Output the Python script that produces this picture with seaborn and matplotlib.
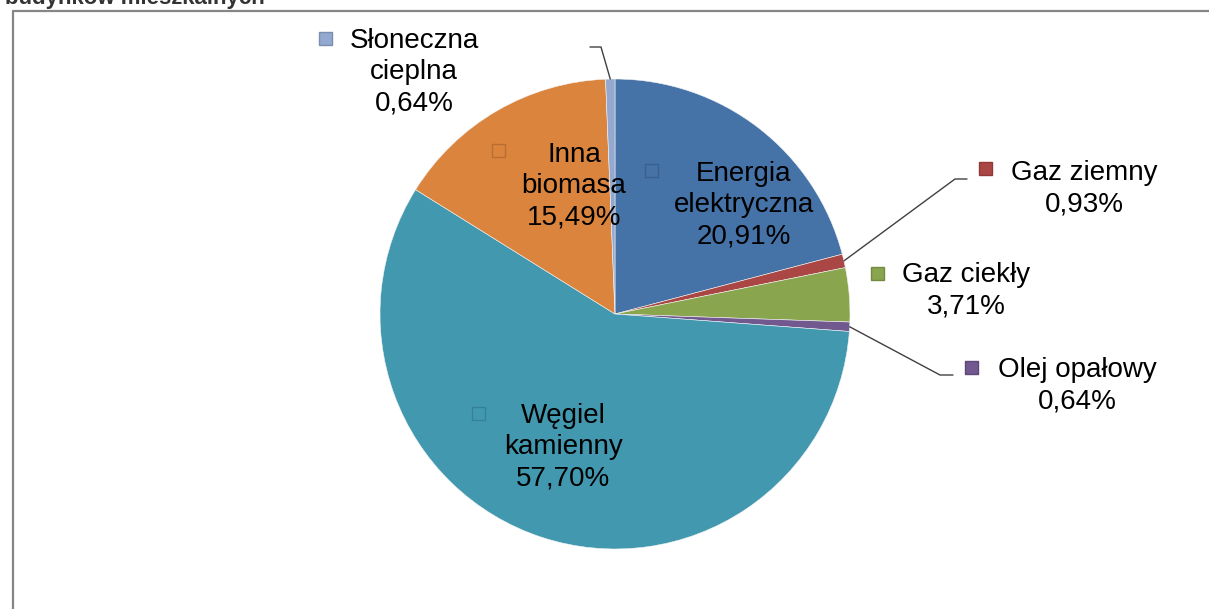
import numpy as np
import matplotlib.pyplot as plt
import seaborn as sns
from matplotlib.patches import Rectangle
from matplotlib.lines import Line2D

# Data
labels = ['Energia\nelektryczna', 'Gaz ziemny', 'Gaz ciekły', 'Olej opałowy',
          'Węgiel\nkamienny', 'Inna\nbiomasa', 'Słoneczna\ncieplna']
shares = [20.91, 0.93, 3.71, 0.64, 57.70, 15.49, 0.64]
pct_text = ['20,91%', '0,93%', '3,71%', '0,64%', '57,70%', '15,49%', '0,64%']
colors = ['#4572A7', '#AA4643', '#89A54E', '#71588F', '#4198AF', '#DB843D', '#93A9CF']
key_edges = ['#3A6090', '#8E3A38', '#728A41', '#5E4977', '#37809A', '#B86E33', '#7B8EAD']

sns.set_theme(style='white')
plt.rcParams['font.family'] = ['Liberation Sans', 'DejaVu Sans']

W, H = 1209, 609
fig = plt.figure(figsize=(W / 100, H / 100), dpi=100)
ax = fig.add_axes([0, 0, 1, 1])
ax.set_xlim(0, W)
ax.set_ylim(0, H)
ax.axis('off')


def Y(py):
    return H - py


cx, cy, R = 615, Y(314), 235
wedges, _ = ax.pie(shares, colors=sns.color_palette(colors), startangle=90,
                   counterclock=False, center=(cx, cy), radius=R,
                   wedgeprops=dict(edgecolor='#f4f4f4', linewidth=0.4))
ax.set_xlim(0, W)
ax.set_ylim(0, H)
ax.set_aspect('equal')

# label layout: text centre (image px), key square position
layout = {
    0: dict(tx=744, ty=205, kx=651, ky=170),
    1: dict(tx=1084, ty=189, kx=985, ky=168, elbow=(955, 179, 967)),
    2: dict(tx=966, ty=291, kx=877, ky=273),
    3: dict(tx=1077, ty=386, kx=971, ky=367, elbow=(940, 375, 953)),
    4: dict(tx=563, ty=447, kx=478, ky=413),
    5: dict(tx=574, ty=186, kx=498, ky=150),
    6: dict(tx=414, ty=72, kx=325, ky=38, elbow=(601, 47, 590)),
}

fs = 20
ks = 13
for i, w in enumerate(wedges):
    lay = layout[i]
    ax.text(lay['tx'], Y(lay['ty']), labels[i] + '\n' + pct_text[i],
            ha='center', va='center', fontsize=fs, color='black',
            linespacing=1.27, multialignment='center')
    ax.add_patch(Rectangle((lay['kx'] - ks / 2, Y(lay['ky']) - ks / 2), ks, ks,
                           facecolor=colors[i], edgecolor=key_edges[i], linewidth=1))
    if 'elbow' in lay:
        mid = np.deg2rad((w.theta1 + w.theta2) / 2)
        sx, sy = cx + R * np.cos(mid), cy + R * np.sin(mid)
        ex, ey, hx = lay['elbow']
        ax.add_line(Line2D([sx, ex, hx], [sy, Y(ey), Y(ey)], color='#404040', linewidth=1))

# frame of the chart area
fig.add_artist(Line2D([12.5 / W, 12.5 / W], [0, 1 - 11 / H], color='#868686',
                      linewidth=1.6, transform=fig.transFigure))
fig.add_artist(Line2D([12.5 / W, 1], [1 - 11 / H, 1 - 11 / H], color='#868686',
                      linewidth=1.6, transform=fig.transFigure))

# title (mostly above the visible area, as in the source)
fig.text(5 / W, 1 - 4 / H, 'budynków mieszkalnych', ha='left', va='baseline',
         fontsize=16, fontweight='bold', color='#333333')

fig.savefig('out.png', dpi=100)
